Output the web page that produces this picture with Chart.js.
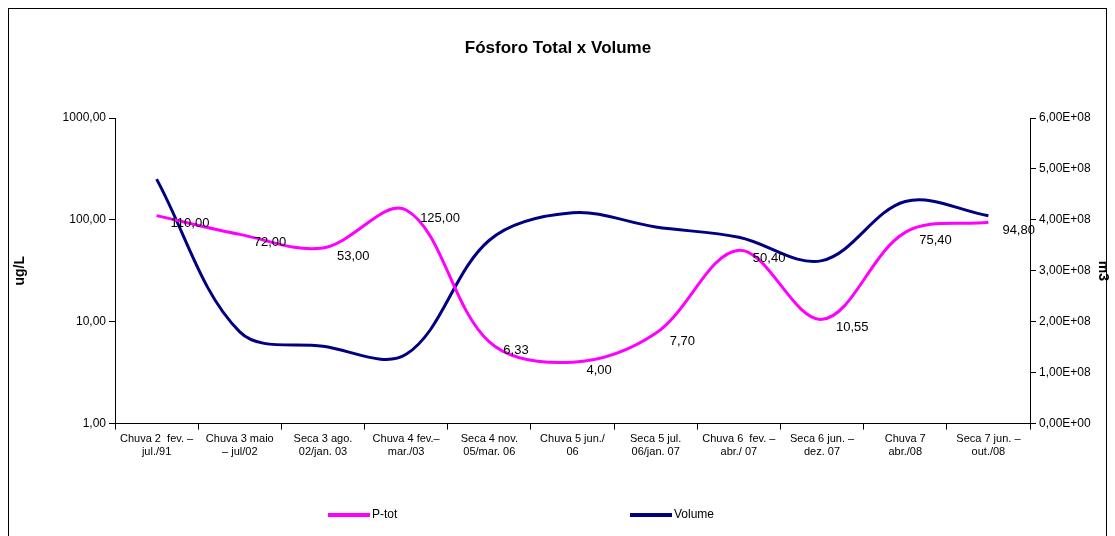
<!DOCTYPE html>
<html>
<head>
<meta charset="utf-8">
<script src="https://cdn.jsdelivr.net/npm/chart.js@4"></script>
<style>
  html, body { margin: 0; background: #fff; overflow: hidden; }
  #wrap { position: absolute; left: 8px; top: 8px; width: 1097px; height: 540px; border: 1px solid #000; border-bottom: none; }
  #c { position: absolute; left: 8px; top: 8px; }
</style>
</head>
<body>
<div id="wrap"></div>
<canvas id="c" width="1107" height="528"></canvas>
<script>
const categories = [
  ['Chuva 2  fev. \u2013', 'jul./91'], ['Chuva 3 maio', '\u2013 jul/02'], ['Seca 3 ago.', '02/jan. 03'],
  ['Chuva 4 fev.\u2013', 'mar./03'], ['Seca 4 nov.', '05/mar. 06'], ['Chuva 5 jun./', '06'],
  ['Seca 5 jul.', '06/jan. 07'], ['Chuva 6  fev. \u2013', 'abr./ 07'], ['Seca 6 jun. \u2013', 'dez. 07'],
  ['Chuva 7', 'abr./08'], ['Seca 7 jun. \u2013', 'out./08']
];
const pTot = [110, 72, 53, 125, 6.33, 4.00, 7.70, 50.40, 10.55, 75.40, 94.80];
const volume = [4.8e8, 1.8e8, 1.52e8, 1.36e8, 3.6e8, 4.14e8, 3.86e8, 3.66e8, 3.2e8, 4.36e8, 4.08e8];
const leftTicks = [1, 10, 100, 1000];

const fmt = v => v.toFixed(2).replace('.', ',');
const fmtE = v => (v / 1e8).toFixed(2).replace('.', ',') + 'E+' + (v === 0 ? '00' : '08');

const decorPlugin = {
  id: 'decor',
  afterDatasetsDraw(chart) {
    const ctx = chart.ctx;
    const meta = chart.getDatasetMeta(0);
    ctx.save();
    ctx.font = '13px "Liberation Sans", Arial';
    ctx.fillStyle = '#000';
    ctx.textBaseline = 'middle';
    meta.data.forEach((p, i) => ctx.fillText(fmt(pTot[i]), p.x + 14, p.y + 8));
    // title
    ctx.font = 'bold 17px "Liberation Sans", Arial';
    ctx.textAlign = 'center';
    ctx.fillText('Fósforo Total x Volume', 550, 40);
    // legend
    ctx.font = '12px "Liberation Sans", Arial';
    ctx.textAlign = 'left';
    chart.data.datasets.forEach((ds, i) => {
      const x = 320 + i * 302, y = 507;
      ctx.fillStyle = ds.borderColor;
      ctx.fillRect(x, y - 2, 42, 4);
      ctx.fillStyle = '#000';
      ctx.fillText(ds.label, x + 44, y);
    });
    ctx.restore();
  }
};

Chart.defaults.font.family = '"Liberation Sans", Arial';
Chart.defaults.color = '#000';

new Chart(document.getElementById('c'), {
  type: 'line',
  data: {
    labels: categories,
    datasets: [
      { label: 'P-tot', data: pTot, yAxisID: 'y', borderColor: '#ff00ff', backgroundColor: '#ff00ff',
        borderWidth: 3, tension: 0.35, pointRadius: 0 },
      { label: 'Volume', data: volume, yAxisID: 'y2', borderColor: '#000080', backgroundColor: '#000080',
        borderWidth: 3, tension: 0.35, pointRadius: 0 }
    ]
  },
  options: {
    responsive: false,
    animation: false,
    layout: { padding: { left: 0, right: 0, top: 110, bottom: 74 } },
    plugins: { legend: { display: false }, tooltip: { enabled: false } },
    scales: {
      x: {
        offset: true,
        grid: { drawOnChartArea: false, offset: true, tickLength: 6, color: '#000' },
        border: { color: '#000' },
        ticks: { maxRotation: 0, autoSkip: false, font: { size: 11, family: '"Liberation Sans Narrow", "Liberation Sans", Arial' } }
      },
      y: {
        type: 'logarithmic', min: 1, max: 1000, position: 'left',
        afterBuildTicks: ax => { ax.ticks = leftTicks.map(v => ({ value: v })); },
        afterFit: ax => { ax.width = 107; },
        grid: { drawOnChartArea: false, tickLength: 6, color: '#000' },
        border: { color: '#000' },
        ticks: { callback: v => fmt(v), font: { size: 12 } },
        title: { display: true, text: 'ug/L', font: { size: 14, weight: 'bold' } }
      },
      y2: {
        min: 0, max: 6e8, position: 'right',
        afterFit: ax => { ax.width = 85; },
        grid: { drawOnChartArea: false, tickLength: 6, color: '#000' },
        border: { color: '#000' },
        ticks: { stepSize: 1e8, callback: v => fmtE(v), font: { size: 12 } },
        title: { display: true, text: 'm3', font: { size: 14, weight: 'bold' } }
      }
    }
  },
  plugins: [decorPlugin]
});
</script>
</body>
</html>
